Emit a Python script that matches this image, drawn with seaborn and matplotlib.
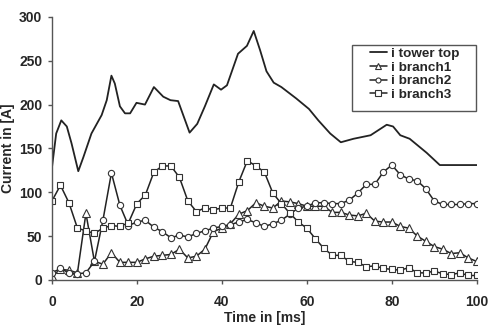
import numpy as np
import pandas as pd
import matplotlib
matplotlib.use("Agg")
import matplotlib.pyplot as plt
from matplotlib.patches import Rectangle
import seaborn as sns

# ---- data ----
tower_t = [0, 1, 2.2, 3.5, 4.6, 6.2, 7.4, 9.3, 11.7, 12.9, 14, 14.8, 16, 17.2, 18.4,
           19.9, 21.9, 24, 26.2, 27.9, 29.7, 32.4, 34.2, 36, 38.1, 39.8, 41.2, 43.8,
           45.9, 47.5, 49, 50.5, 52.2, 54, 57.5, 60.5, 62.7, 65.5, 68, 71, 75, 78.8,
           80.3, 82, 84.2, 88.2, 91.3, 93, 100]
tower_v = [128, 167, 182, 175, 156, 124, 140, 167, 188, 205, 233, 224, 198, 190, 190,
           202, 200, 220, 209, 205, 204, 168, 178, 198, 223, 217, 222, 258,
           267, 284, 262, 238, 225, 220, 207, 195, 182, 167, 157, 161, 165, 177,
           175, 165, 161, 145, 131, 131, 131]

branch_t = list(range(0, 101, 2))
branch1 = [4, 12, 11, 8, 76, 21, 18, 31, 20, 20, 20, 24, 27, 28, 29, 35, 25, 27, 35, 55,
           59, 64, 75, 79, 88, 84, 82, 90, 89, 87, 84, 84, 84, 77, 77, 74, 73, 76, 67, 66,
           66, 61, 59, 50, 44, 38, 35, 30, 31, 25, 21]
branch2 = [8, 13, 8, 7, 8, 21, 68, 122, 85, 62, 66, 68, 60, 55, 48, 51, 49, 53, 56, 59,
           61, 63, 66, 69, 65, 61, 64, 68, 75, 82, 84, 88, 88, 87, 87, 91, 99, 109, 109, 123,
           131, 120, 115, 113, 104, 90, 86, 86, 86, 87, 87]
branch3 = [90, 108, 88, 59, 56, 53, 59, 62, 61, 65, 87, 97, 123, 130, 130, 117, 90, 78, 82, 80,
           82, 82, 112, 136, 130, 123, 99, 87, 76, 66, 59, 47, 36, 28, 28, 21, 20, 15, 16, 13,
           12, 11, 14, 8, 8, 10, 7, 6, 8, 5, 5]

labels = ["i tower top", "i branch1", "i branch2", "i branch3"]
x_ticks = [0, 20, 40, 60, 80, 100]
y_ticks = [0, 50, 100, 150, 200, 250, 300]

sns.set_theme(style="white")
plt.rcParams['font.family'] = ['Liberation Sans', 'DejaVu Sans']
plt.rcParams['font.weight'] = 'bold'

fig = plt.figure(figsize=(4.9, 3.32), dpi=100)
ax = fig.add_axes([0.106, 0.157, 0.867, 0.792])

lc = "#222222"
tower_df = pd.DataFrame({"t": tower_t, "v": tower_v})
sns.lineplot(data=tower_df, x="t", y="v", ax=ax, color=lc, lw=1.3, label=labels[0],
             estimator=None, sort=False)

for vals, mk, ms, lab in [(branch1, "^", 5.5, labels[1]),
                          (branch2, "o", 4.5, labels[2]),
                          (branch3, "s", 5.0, labels[3])]:
    df = pd.DataFrame({"t": branch_t, "v": vals})
    sns.lineplot(data=df, x="t", y="v", ax=ax, color=lc, lw=1.1, marker=mk,
                 markersize=ms, markerfacecolor="white", markeredgecolor="#333333",
                 markeredgewidth=0.8, label=lab, estimator=None, sort=False)

ax.set_xlim(0, 100)
ax.set_ylim(0, 300)
ax.set_xticks(x_ticks)
ax.set_yticks(y_ticks)
ax.set_xticklabels([str(v) for v in x_ticks], fontsize=10, fontweight="bold")
ax.set_yticklabels([str(v) for v in y_ticks], fontsize=10, fontweight="bold")
ax.set_xlabel("Time in [ms]", fontsize=10, fontweight="bold")
ax.set_ylabel("Current in [A]", fontsize=10, fontweight="bold")
ax.xaxis.set_label_coords(0.5, -0.144, transform=ax.transAxes)
ax.yaxis.set_label_coords(-0.103, 0.5, transform=ax.transAxes)
ax.xaxis.label.set_va("center")
ax.yaxis.label.set_va("center")

for s in ["top", "right"]:
    ax.spines[s].set_visible(False)
for s in ["left", "bottom"]:
    ax.spines[s].set_color("#555555")
    ax.spines[s].set_linewidth(1.0)
ax.tick_params(axis="both", which="major", direction="out", length=3, width=1,
               color="#555555", bottom=True, left=True)
ax.tick_params(axis="y", pad=4)
ax.tick_params(axis="x", pad=8)

# legend: frame drawn separately to mimic the wide side padding of the original
frame = Rectangle((0.706, 0.643), 0.292, 0.251, transform=ax.transAxes,
                  facecolor="white", edgecolor="#555555", linewidth=1.0,
                  clip_on=False, zorder=4.9)
ax.add_patch(frame)
leg = ax.legend(loc="upper left", bbox_to_anchor=(0.748, 0.884), fontsize=9.7,
                frameon=False, borderpad=0, borderaxespad=0,
                handlelength=1.25, handletextpad=0.3,
                labelspacing=0.1, markerscale=0.8)
leg.set_zorder(5)
for t in leg.get_texts():
    t.set_fontweight("bold")

fig.savefig("out.png", dpi=100)
